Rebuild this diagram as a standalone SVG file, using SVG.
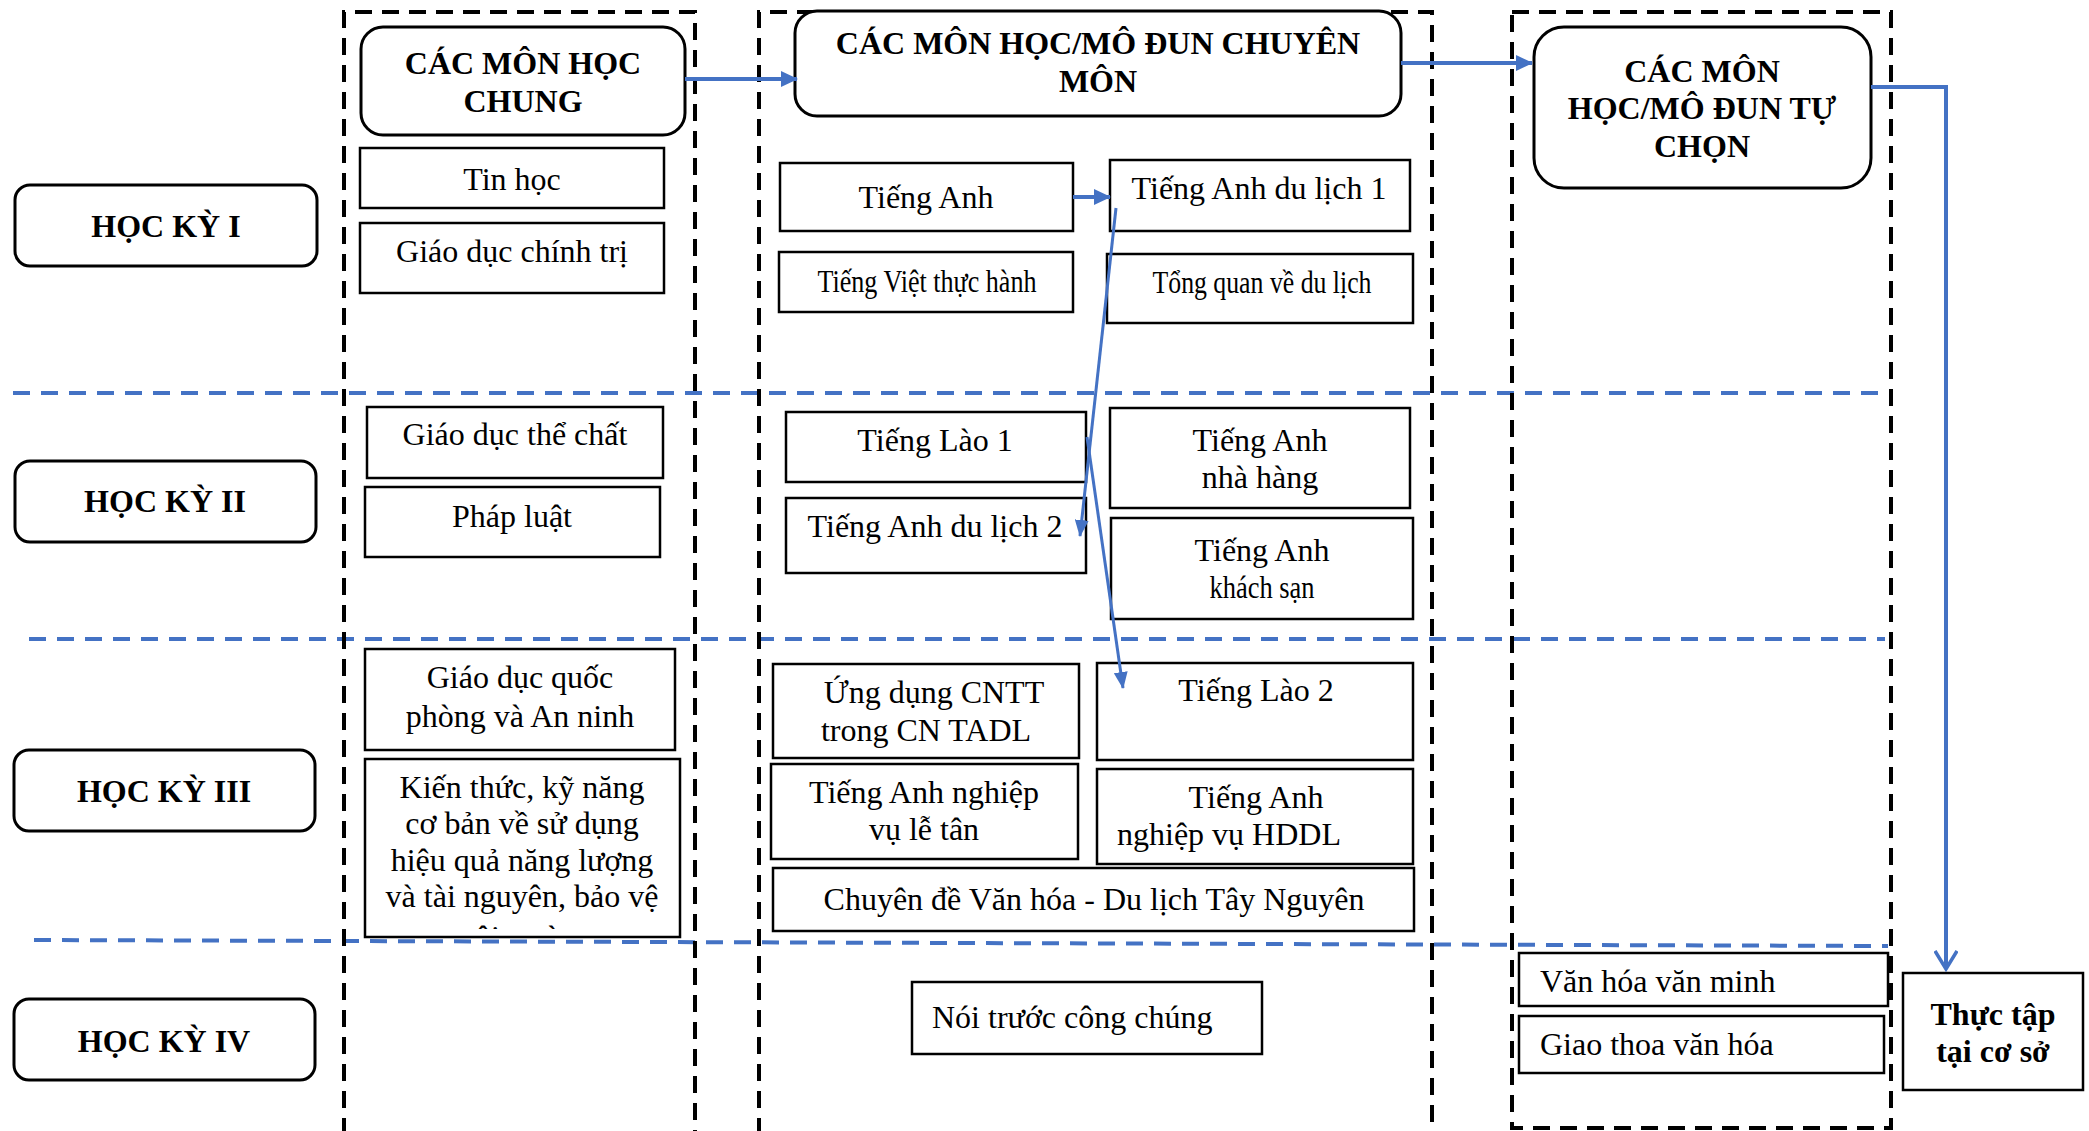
<svg xmlns="http://www.w3.org/2000/svg" width="2089" height="1131" viewBox="0 0 2089 1131">
<defs>
<style>
.t{font-family:"Liberation Serif","Times New Roman",serif;font-size:32px;fill:#000;text-anchor:middle}
.l{text-anchor:start}
.b{font-weight:bold}
.box{fill:#fff;stroke:#000;stroke-width:2.5}
.rbox{fill:#fff;stroke:#000;stroke-width:3}
.cont{fill:none;stroke:#000;stroke-width:4;stroke-dasharray:17 10}
.sep{fill:none;stroke:#4472C4;stroke-width:4;stroke-dasharray:17 11}
.con{fill:none;stroke:#4472C4;stroke-width:4}
.con3{fill:none;stroke:#4472C4;stroke-width:3}
</style>
<marker id="ah" markerUnits="userSpaceOnUse" markerWidth="17" markerHeight="16" refX="16" refY="8" orient="auto">
<path d="M0,0 L17,8 L0,16 z" fill="#4472C4"/>
</marker>
<marker id="ahs" markerUnits="userSpaceOnUse" markerWidth="17" markerHeight="14" refX="16" refY="7" orient="auto">
<path d="M0,0 L17,7 L0,14 z" fill="#4472C4"/>
</marker>
<marker id="ao" markerUnits="userSpaceOnUse" markerWidth="22" markerHeight="24" refX="19" refY="12" orient="auto">
<path d="M1,1 L19,12 L1,23" fill="none" stroke="#4472C4" stroke-width="3.5"/>
</marker>
<clipPath id="kclip"><rect x="366" y="760" width="313" height="169"/></clipPath>
</defs>

<g id="separators">
<line class="sep" x1="13" y1="393" x2="1879" y2="393"/>
<line class="sep" x1="29" y1="639" x2="1885" y2="639"/>
<line class="sep" x1="34" y1="940" x2="1888" y2="946"/>
</g>

<g id="containers">
<path class="cont" d="M344,1135 V12 H695 V1135"/>
<path class="cont" d="M759,1135 V12 H1432 V1135"/>
<rect class="cont" x="1512" y="12" width="379" height="1116"/>
</g>

<g id="hk1"><rect class="rbox" x="15" y="185" width="302" height="81" rx="15"/><text class="t b" x="166" y="237" font-size="31">HỌC KỲ I</text></g>
<g id="hk2"><rect class="rbox" x="15" y="461" width="301" height="81" rx="15"/><text class="t b" x="165" y="512" font-size="31">HỌC KỲ II</text></g>
<g id="hk3"><rect class="rbox" x="14" y="750" width="301" height="81" rx="15"/><text class="t b" x="164" y="802" font-size="31">HỌC KỲ III</text></g>
<g id="hk4"><rect class="rbox" x="14" y="999" width="301" height="81" rx="15"/><text class="t b" x="164" y="1052" font-size="31">HỌC KỲ IV</text></g>

<g id="chung"><rect class="rbox" x="361" y="27" width="324" height="108" rx="22"/><text class="t b" x="523" y="74" font-size="31">CÁC MÔN HỌC</text><text class="t b" x="523" y="112" font-size="31">CHUNG</text></g>
<g id="tinhoc"><rect class="box" x="360" y="148" width="304" height="60"/><text class="t" x="512" y="190">Tin học</text></g>
<g id="gdct"><rect class="box" x="360" y="223" width="304" height="70"/><text class="t" x="512" y="262">Giáo dục chính trị</text></g>
<g id="gdtc"><rect class="box" x="367" y="407" width="296" height="71"/><text class="t" x="515" y="445">Giáo dục thể chất</text></g>
<g id="phapluat"><rect class="box" x="365" y="487" width="295" height="70"/><text class="t" x="512" y="527">Pháp luật</text></g>
<g id="gdqp"><rect class="box" x="365" y="649" width="310" height="101"/><text class="t" x="520" y="688">Giáo dục quốc</text><text class="t" x="520" y="727">phòng và An ninh</text></g>
<g id="kienthuc"><rect class="box" x="365" y="759" width="315" height="178"/>
<text class="t" x="522" y="798">Kiến thức, kỹ năng</text>
<text class="t" x="522" y="834">cơ bản về sử dụng</text>
<text class="t" x="522" y="871">hiệu quả năng lượng</text>
<text class="t" x="522" y="907">và tài nguyên, bảo vệ</text>
<text class="t" x="522" y="948" clip-path="url(#kclip)">môi trường</text></g>

<g id="chuyenmon"><rect class="rbox" x="795" y="11" width="606" height="105" rx="22"/><text class="t b" x="1098" y="54">CÁC MÔN HỌC/MÔ ĐUN CHUYÊN</text><text class="t b" x="1098" y="92">MÔN</text></g>
<g id="tienganh"><rect class="box" x="780" y="163" width="293" height="68"/><text class="t" x="926" y="208">Tiếng Anh</text></g>
<g id="tadl1"><rect class="box" x="1110" y="160" width="300" height="71"/><text class="t" x="1259" y="199">Tiếng Anh du lịch 1</text></g>
<g id="tvth"><rect class="box" x="779" y="252" width="294" height="60"/><text class="t" x="927" y="292" textLength="219" lengthAdjust="spacingAndGlyphs">Tiếng Việt thực hành</text></g>
<g id="tqdl"><rect class="box" x="1107" y="254" width="306" height="69"/><text class="t" x="1262" y="293" textLength="219" lengthAdjust="spacingAndGlyphs">Tổng quan về du lịch</text></g>
<g id="tl1"><rect class="box" x="786" y="412" width="300" height="70"/><text class="t" x="935" y="451">Tiếng Lào 1</text></g>
<g id="tadl2"><rect class="box" x="786" y="498" width="300" height="75"/><text class="t" x="935" y="537">Tiếng Anh du lịch 2</text></g>
<g id="tanh"><rect class="box" x="1110" y="408" width="300" height="100"/><text class="t" x="1260" y="451">Tiếng Anh</text><text class="t" x="1260" y="488">nhà hàng</text></g>
<g id="taks"><rect class="box" x="1111" y="518" width="302" height="101"/><text class="t" x="1262" y="561">Tiếng Anh</text><text class="t" x="1262" y="598" textLength="105" lengthAdjust="spacingAndGlyphs">khách sạn</text></g>
<g id="cntt"><rect class="box" x="773" y="664" width="306" height="94"/><text class="t" x="934" y="703">Ứng dụng CNTT</text><text class="t" x="926" y="741">trong CN TADL</text></g>
<g id="tl2"><rect class="box" x="1097" y="663" width="316" height="97"/><text class="t" x="1256" y="701">Tiếng Lào 2</text></g>
<g id="taletan"><rect class="box" x="771" y="764" width="307" height="95"/><text class="t" x="924" y="803">Tiếng Anh nghiệp</text><text class="t" x="924" y="840">vụ lễ tân</text></g>
<g id="tahddl"><rect class="box" x="1097" y="769" width="316" height="95"/><text class="t" x="1256" y="808">Tiếng Anh</text><text class="t" x="1229" y="845">nghiệp vụ HDDL</text></g>
<g id="chuyende"><rect class="box" x="773" y="868" width="641" height="63"/><text class="t" x="1094" y="910">Chuyên đề Văn hóa - Du lịch Tây Nguyên</text></g>
<g id="noitruoc"><rect class="box" x="912" y="982" width="350" height="72"/><text class="t l" x="932" y="1028">Nói trước công chúng</text></g>

<g id="tuchon"><rect class="rbox" x="1534" y="27" width="337" height="161" rx="30"/><text class="t b" x="1702" y="82" font-size="30">CÁC MÔN</text><text class="t b" x="1702" y="119" font-size="30">HỌC/MÔ ĐUN TỰ</text><text class="t b" x="1702" y="157" font-size="30">CHỌN</text></g>
<g id="vhvm"><rect class="box" x="1519" y="953" width="369" height="53"/><text class="t l" x="1540" y="992">Văn hóa văn minh</text></g>
<g id="gtvh"><rect class="box" x="1519" y="1016" width="365" height="57"/><text class="t l" x="1540" y="1055">Giao thoa văn hóa</text></g>
<g id="thuctap"><rect class="box" x="1903" y="973" width="180" height="117"/><text class="t b" x="1993" y="1025">Thực tập</text><text class="t b" x="1993" y="1062">tại cơ sở</text></g>

<g id="connectors">
<line class="con" x1="685" y1="79" x2="797" y2="79" marker-end="url(#ah)"/>
<line class="con" x1="1401" y1="63" x2="1532" y2="63" marker-end="url(#ah)"/>
<polyline class="con" points="1871,87 1946,87 1946,969" marker-end="url(#ao)"/>
<line class="con" x1="1073" y1="197" x2="1110" y2="197" marker-end="url(#ah)"/>
<line class="con3" x1="1116" y1="208" x2="1080" y2="536" marker-end="url(#ahs)"/>
<line class="con3" x1="1087" y1="437" x2="1123" y2="688" marker-end="url(#ahs)"/>
</g>
</svg>
